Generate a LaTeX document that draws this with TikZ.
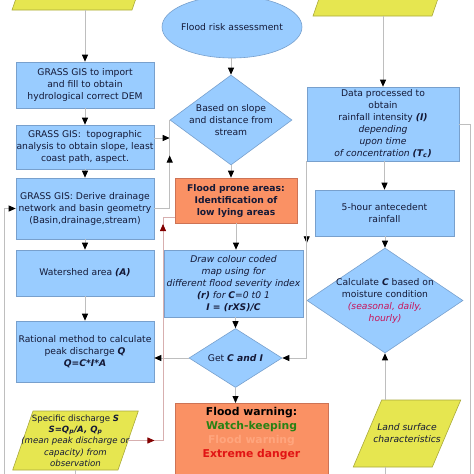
\documentclass[tikz,border=0pt]{standalone}
\usepackage{fontspec}
\setmainfont{DejaVu Sans}
\usetikzlibrary{shapes.geometric,arrows.meta}

\definecolor{boxfill}{RGB}{153,204,255}
\definecolor{boxline}{RGB}{120,160,205}
\definecolor{pronefill}{RGB}{250,145,100}
\definecolor{proneline}{RGB}{205,115,85}
\definecolor{datafill}{RGB}{230,230,80}
\definecolor{dataline}{RGB}{170,170,60}
\definecolor{ink}{RGB}{20,25,55}
\definecolor{flowline}{RGB}{190,190,190}
\definecolor{backline}{RGB}{215,175,175}
\definecolor{backtip}{RGB}{130,0,0}
\definecolor{season}{RGB}{200,20,90}
\definecolor{watchgreen}{RGB}{40,130,20}
\definecolor{warnsalmon}{RGB}{255,165,125}
\definecolor{dangerred}{RGB}{225,20,20}

\tikzset{
  every node/.style={font=\fontsize{9.2}{12}\selectfont, text=ink, align=center},
  process/.style={rectangle, draw=boxline, fill=boxfill, line width=0.6pt, inner sep=0pt},
  prone/.style={process, draw=proneline, fill=pronefill},
  decision/.style={diamond, draw=boxline, fill=boxfill, line width=0.6pt, inner sep=0pt},
  start/.style={ellipse, draw=boxline, fill=boxfill, line width=0.6pt, inner sep=0pt},
  io/.style={trapezium, draw=dataline, fill=datafill, line width=0.6pt},
  flow/.style={draw=flowline, line width=0.8pt},
  arr/.style={flow, -{Triangle[length=7pt,width=6pt,color=black]}},
  back/.style={draw=backline, line width=0.8pt},
  backarr/.style={back, -{Triangle[length=7pt,width=6pt,color=backtip]}},
}

\begin{document}
\begin{tikzpicture}[x=1pt,y=-1pt]
\useasboundingbox (0,0) rectangle (474,474);
\clip (0,0) rectangle (474,474);

% input data (cut at the top)
\node[io, trapezium left angle=71, trapezium right angle=109, inner xsep=49.65pt, inner ysep=30pt] (demdata) at (82.35,-20) {};
\node[io, trapezium left angle=71, trapezium right angle=109, inner xsep=49.15pt, inner ysep=30pt] (raindata) at (382.85,-14) {};

% left column
\node[process, minimum width=138pt, minimum height=46pt] (import) at (85,85) {GRASS GIS to import\\ and fill to obtain\\ hydrological correct DEM};
\node[process, minimum width=138pt, minimum height=44pt] (topo) at (85,147) {GRASS GIS:~ topographic\\ analysis to obtain slope, least\\ coast path, aspect.};
\node[process, minimum width=138pt, minimum height=61pt] (drainage) at (85,208.5) {GRASS GIS: Derive drainage\\ network and basin geometry\\ (Basin,drainage,stream)};
\node[process, minimum width=138pt, minimum height=46pt] (watershed) at (85,273) {Watershed area \textbf{\textit{(A)}}};
\node[process, minimum width=138pt, minimum height=61pt] (rational) at (85,351.5) {Rational method to calculate\\ peak discharge \textbf{\textit{Q}}\\ \textbf{\textit{Q=C*I*A}}};
\node[io, trapezium left angle=71, trapezium right angle=109, inner xsep=42.5pt, inner ysep=29.5pt, label={[name=specific-text, font=\fontsize{8.6}{11.3}\selectfont]center:{Specific discharge \textbf{\textit{S}}\\ \textbf{\textit{S=Q\textsubscript{p}/A, Q\textsubscript{p}}}\\ \textit{(mean peak discharge or}\\ \textit{capacity) from}\\ \textit{observation}}}] (specific) at (75.5,440.5) {};

% centre column
\node[start, minimum width=140pt, minimum height=62pt, label={[name=assess-text]center:Flood risk assessment}] (assess) at (232,27) {};
\node[decision, minimum width=122pt, minimum height=90pt, label={[name=slope-text]center:{Based on slope\\ and distance from\\ stream}}] (slope) at (231,120) {};
\node[prone, minimum width=122pt, minimum height=45pt, font=\fontsize{9.2}{12}\selectfont\bfseries] (lowlying) at (236,200.5) {Flood prone areas:\\ Identification of\\ low lying areas};
\node[process, minimum width=139pt, minimum height=67pt, font=\fontsize{9.2}{12}\selectfont\itshape] (severity) at (233.5,283.5) {Draw colour coded\\ map using for\\ different flood severity index\\ \textbf{(r)} for \textbf{C}=0 t0 1\\ \textbf{I = (rXS)/C}};
\node[decision, minimum width=93pt, minimum height=59pt, label={[name=getci-text]center:Get \textbf{\textit{C and I}}}] (getci) at (235.5,358) {};
\node[prone, minimum width=153pt, minimum height=80pt, anchor=north, label={[name=warning-text, anchor=north, yshift=-1pt, font=\fontsize{10.8}{14}\selectfont\bfseries]north:{\textcolor{black}{Flood warning:}\\ \textcolor{watchgreen}{Watch-keeping}\\ \textcolor{warnsalmon}{Flood warning}\\ \textcolor{dangerred}{Extreme danger}}}] (warning) at (251.5,403) {};

% right column
\node[process, minimum width=152pt, minimum height=74pt] (intensity) at (383,124) {Data processed to\\ obtain\\ rainfall intensity \textbf{\textit{(I)}}\\ \textit{depending}\\ \textit{upon time}\\ \textit{of concentration} \textbf{\textit{(T\textsubscript{c})}}};
\node[process, minimum width=139pt, minimum height=46pt] (antecedent) at (384.5,213) {5-hour antecedent\\ rainfall};
\node[decision, minimum width=156pt, minimum height=105pt, label={[name=runoff-text]center:{Calculate \textbf{\textit{C}} based on\\ moisture condition\\ \textcolor{season}{\textit{(seasonal, daily,}}\\ \textcolor{season}{\textit{hourly)}}}}] (runoff) at (385,300.5) {};
\node[io, trapezium left angle=67, trapezium right angle=113, inner xsep=25.3pt, inner ysep=33.5pt, label={[name=landsurface-text, font=\fontsize{9.2}{12}\selectfont\itshape]center:{Land surface\\ characteristics}}] (landsurface) at (407,433.5) {};

% left connectors
\draw[arr] (demdata.south -| import.north) -- (import.north);
\draw[arr] (import) -- (topo);
\draw[arr] (topo) -- (drainage);
\draw[arr] (drainage) -- (watershed);
\draw[arr] (watershed) -- (rational);
\draw[arr] ([yshift=9pt]topo.east) -- ([yshift=9pt]topo.east -| slope.west);
\draw[flow] (drainage.east) -| (slope.west);
\draw[arr] (drainage.east -| slope.west) -- ++(0,-53);
\coordinate (leftfoot) at (4,480);
\draw[arr] (leftfoot) |- (drainage.west);
\draw[flow] (specific.south) -- ++(0,10);

% centre connectors
\draw[arr] (slope.north |- assess.south) -- (slope.north);
\draw[arr] (slope.south) -- (slope.south |- lowlying.north);
\draw[arr] (lowlying.south) -- (lowlying.south |- severity.north);
\draw[arr] (getci.north |- severity.south) -- (getci.north);
\draw[arr] (getci.south) -- (getci.south |- warning.north);
\draw[arr] (getci.west) -- (getci.west -| rational.east);
\coordinate (redknee) at (163,217);
\draw[back] (specific.east) -| (redknee) -- (redknee -| lowlying.west);
\draw[backarr] (specific.east) -- ++(26,0);
\draw[backarr] (specific.east -| redknee) -- ([yshift=-7pt]redknee);

% right connectors
\draw[arr] (raindata.south -| intensity.north) -- (intensity.north);
\draw[arr] (intensity.south -| antecedent.north) -- (antecedent.north);
\draw[arr] (antecedent.south -| runoff.north) -- (runoff.north);
\draw[arr] (landsurface.north -| runoff.south) -- (runoff.south);
\draw[flow] (landsurface.south -| runoff.south) -- ++(0,10);
\draw[flow] (intensity.east) -- ++(11,0) -- ++(0,360);
\draw[arr] (intensity.south west) -- ++(0,82);
\draw[arr] (intensity.south west) |- (getci.east);
\end{tikzpicture}
\end{document}
